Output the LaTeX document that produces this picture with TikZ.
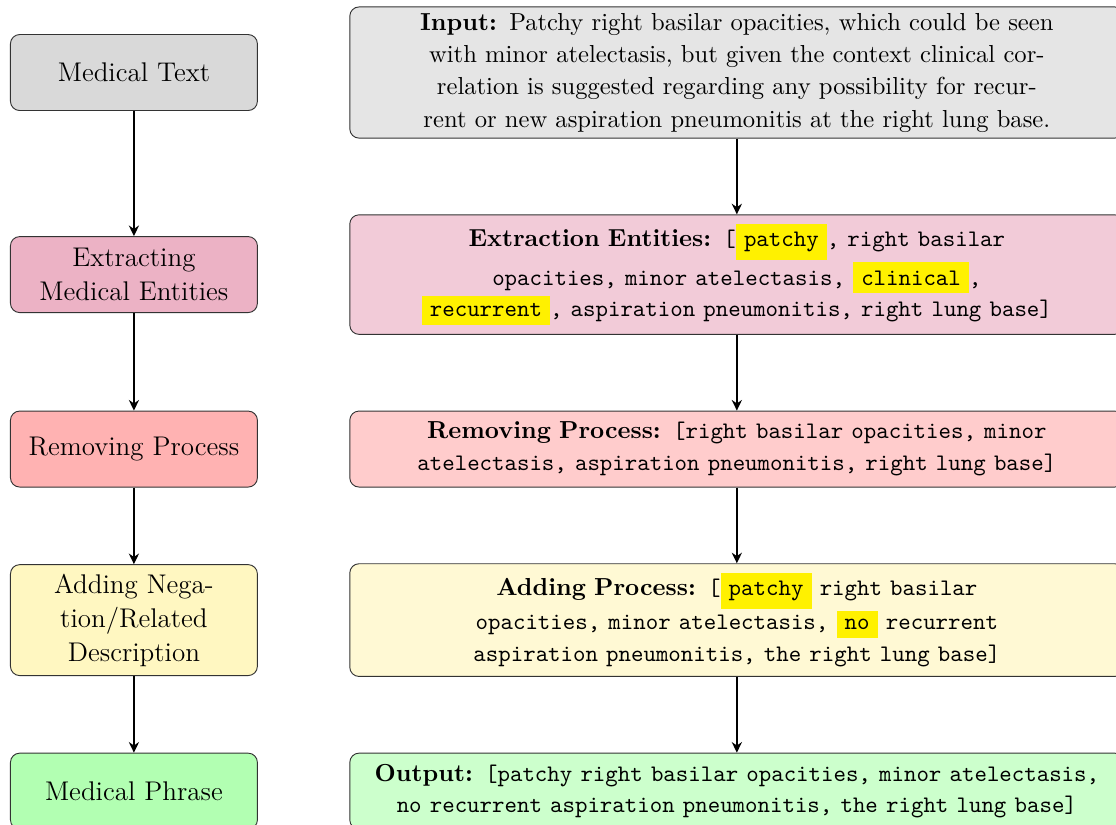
\documentclass[tikz,border=0pt]{standalone}
\usepackage{fontspec}
\usepackage{tikz}
\usetikzlibrary{positioning,arrows.meta}

\definecolor{pinkleft}{RGB}{236,178,197}
\definecolor{pinkright}{RGB}{242,203,216}
\definecolor{yellowleft}{RGB}{255,247,193}
\definecolor{yellowright}{RGB}{255,249,212}
\definecolor{marker}{RGB}{255,241,0}

% list text and highlighted tokens
\newcommand{\lst}[1]{{\fontsize{10.27}{13.8}\selectfont\ttfamily #1}}
\newcommand{\hlbox}[1]{{\setlength{\fboxsep}{3.5pt}\colorbox{marker}{#1}}}

\tikzset{
    stage/.style={draw=black!80, rounded corners=4pt, inner sep=4pt,
        text width=98.9pt, minimum height=32.9pt, align=center,
        font=\fontsize{11.7}{14.7}\selectfont},
    detail/.style={draw=black!80, rounded corners=4pt, inner sep=4pt,
        text width=327.1pt, minimum height=32.9pt, align=center,
        font=\fontsize{10.65}{13.8}\selectfont},
    flow/.style={-{Stealth[length=4.6pt,width=4.4pt]}, line width=0.7pt}
}

\begin{document}
\begin{tikzpicture}[node distance=32.8pt]
            % right column: what each step produces
            \node[detail, fill=gray!20, inner ysep=2.6pt, font=\fontsize{10.65}{14}\selectfont] (input) {\textbf{Input:} Patchy right basilar opacities, which could be seen\\
                with minor atelectasis, but given the context clinical cor-\\
                relation is suggested regarding any possibility for recur-\\
                rent or new aspiration pneumonitis at the right lung base.};
            \node[detail, fill=pinkright, below=of input] (entities) {\textbf{Extraction Entities:} \lst{[\hlbox{patchy}, right basilar\\
                opacities, minor atelectasis, \hlbox{clinical},\\
                \hlbox{recurrent}, aspiration pneumonitis, right lung base]}};
            \node[detail, fill=red!20, below=of entities] (removed) {\textbf{Removing Process:} \lst{[right basilar opacities, minor\\
                atelectasis, aspiration pneumonitis, right lung base]}};
            \node[detail, fill=yellowright, below=of removed] (added) {\textbf{Adding Process:} \lst{[\hlbox{patchy} right basilar\\
                opacities, minor atelectasis, \hlbox{no} recurrent\\
                aspiration pneumonitis, the right lung base]}};
            \node[detail, fill=green!20, below=of added] (output) {\textbf{Output:} \lst{[patchy right basilar opacities, minor atelectasis,\\
                no recurrent aspiration pneumonitis, the right lung base]}};

            % left column: the steps
            \node[stage, fill=gray!30, left=39.6pt of input] (text) {Medical Text};
            \node[stage, fill=pinkleft, left=39.6pt of entities] (extract) {Extracting\\ Medical Entities};
            \node[stage, fill=red!30, left=39.6pt of removed] (remove) {Removing Process};
            \node[stage, fill=yellowleft, left=39.6pt of added] (negation) {Adding Nega-\\ tion/Related\\ Description};
            \node[stage, fill=green!30, left=39.6pt of output] (phrase) {Medical Phrase};

            \draw[flow] (text) -- (extract);
            \draw[flow] (extract) -- (remove);
            \draw[flow] (remove) -- (negation);
            \draw[flow] (negation) -- (phrase);

            \draw[flow] (input) -- (entities);
            \draw[flow] (entities) -- (removed);
            \draw[flow] (removed) -- (added);
            \draw[flow] (added) -- (output);

            % crop: right and bottom edges are cut off
            \path (text.west |- input.north) ++(-4.33pt,2.8pt) coordinate (corner);
            \pgfresetboundingbox
            \path[use as bounding box] (corner) rectangle ++(483.1pt,-357.1pt);
\end{tikzpicture}
\end{document}
